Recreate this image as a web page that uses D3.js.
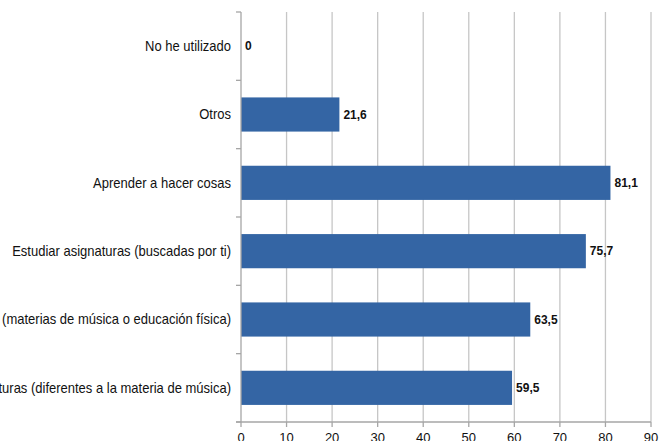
<!DOCTYPE html>
<html><head><meta charset="utf-8">
<script src="https://cdn.jsdelivr.net/npm/d3@7"></script>
<style>body{margin:0;background:#fff;overflow:hidden}svg{display:block}</style>
</head><body>
<svg id="c" width="669" height="441"></svg>
<script>
const categories = [
  "No he utilizado",
  "Otros",
  "Aprender a hacer cosas",
  "Estudiar asignaturas (buscadas por ti)",
  "Estudiar asignaturas (materias de música o educación física)",
  "Estudiar asignaturas (diferentes a la materia de música)"
];
const values = [0, 21.6, 81.1, 75.7, 63.5, 59.5];
const valueLabels = ["0", "21,6", "81,1", "75,7", "63,5", "59,5"];
const xTicks = [0, 10, 20, 30, 40, 50, 60, 70, 80, 90];

const svg = d3.select("#c");
const m = {left: 241, right: 651, top: 12, bottom: 422};
const x = d3.scaleLinear().domain([0, 90]).range([m.left, m.right]);
const y = d3.scaleBand().domain(categories).range([m.top, m.bottom]).paddingInner(0.5).paddingOuter(0.25);
const yb = d3.scaleBand().domain(categories).range([m.top, m.bottom]);

const font = "'Liberation Sans',Arial,sans-serif";

// gridlines
svg.append("g").selectAll("line").data(xTicks.slice(1)).join("line")
  .attr("x1", d => x(d)).attr("x2", d => x(d))
  .attr("y1", m.top).attr("y2", m.bottom)
  .attr("stroke", "#c6c6c6").attr("stroke-width", 1.3);

// bars
svg.append("g").selectAll("rect").data(values).join("rect")
  .attr("x", x(0)).attr("y", (d, i) => y(categories[i]))
  .attr("width", d => x(d) - x(0)).attr("height", y.bandwidth())
  .attr("fill", "#3465a4");

// y axis
const ya = svg.append("g");
ya.append("line").attr("x1", m.left).attr("x2", m.left).attr("y1", m.top).attr("y2", m.bottom)
  .attr("stroke", "#a6a6a6").attr("stroke-width", 1.3);
const bounds = categories.map(c => yb(c)).concat([m.bottom]);
ya.selectAll("line.t").data(bounds).join("line").attr("class", "t")
  .attr("x1", m.left - 5).attr("x2", m.left).attr("y1", d => d).attr("y2", d => d)
  .attr("stroke", "#a6a6a6").attr("stroke-width", 1.3);

// category labels, condensed horizontally to match the reference's narrow face
const labG = ya.append("g");
const labs = labG.selectAll("text").data(categories).join("text")
  .attr("x", 0).attr("y", d => yb(d) + yb.bandwidth() / 2)
  .attr("dy", "0.35em").attr("text-anchor", "end")
  .attr("font-family", font).attr("font-size", 14).attr("fill", "#111")
  .text(d => d);
const refLen = labs.filter((d, i) => i === 3).node().getComputedTextLength();
const sx = 219 / refLen;
labG.attr("transform", `translate(${m.left - 10},0) scale(${sx},1)`);

// x axis
const xa = svg.append("g");
xa.append("line").attr("x1", m.left - 5).attr("x2", m.right).attr("y1", m.bottom).attr("y2", m.bottom)
  .attr("stroke", "#a6a6a6").attr("stroke-width", 1.3);
xa.selectAll("line.t").data(xTicks).join("line").attr("class", "t")
  .attr("x1", d => x(d)).attr("x2", d => x(d)).attr("y1", m.bottom).attr("y2", m.bottom + 5)
  .attr("stroke", "#a6a6a6").attr("stroke-width", 1.3);
xa.selectAll("text").data(xTicks).join("text")
  .attr("x", d => x(d)).attr("y", m.bottom + 15).attr("dy", "0.35em")
  .attr("text-anchor", "middle").attr("font-family", font).attr("font-size", 13).attr("fill", "#111")
  .text(d => d);

// value labels
svg.append("g").selectAll("text").data(values).join("text")
  .attr("x", d => x(d) + 4).attr("y", (d, i) => y(categories[i]) + y.bandwidth() / 2)
  .attr("dy", "0.35em").attr("font-family", font).attr("font-weight", "bold")
  .attr("font-size", 12).attr("fill", "#111")
  .text((d, i) => valueLabels[i]);
</script>
</body></html>
